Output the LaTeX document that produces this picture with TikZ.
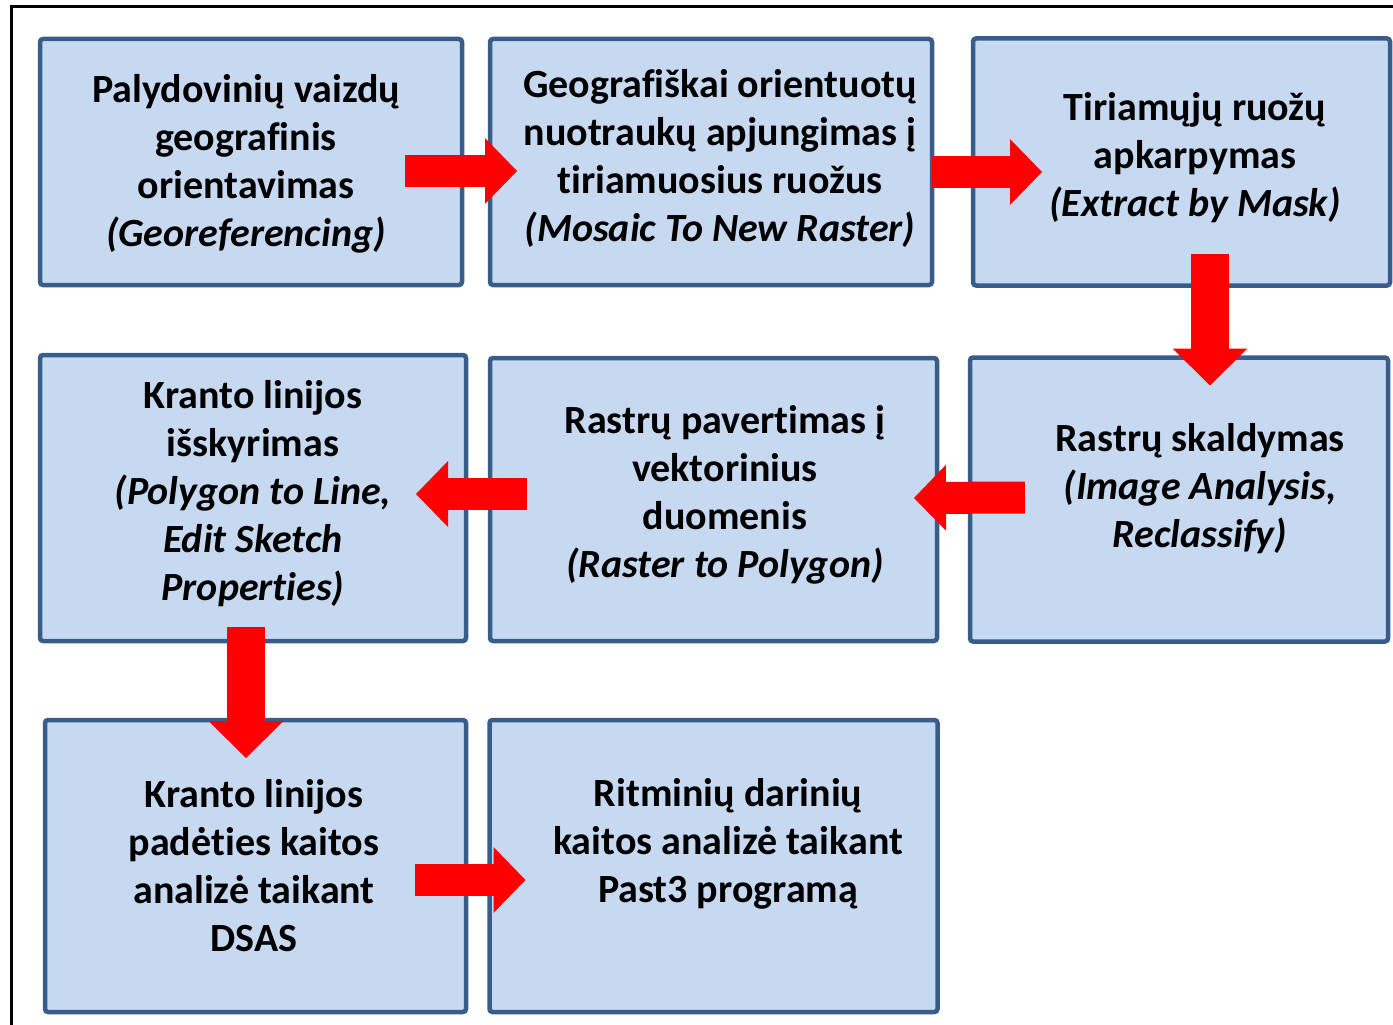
\documentclass[tikz,border=0pt]{standalone}
\usepackage{fontspec}
\setmainfont{Carlito}[RawFeature={-liga;-clig;-calt;-dlig}]
\usepackage{tikz}
\usetikzlibrary{positioning,arrows.meta,calc}
\definecolor{boxfill}{HTML}{C6D9F1}
\definecolor{boxline}{HTML}{385D8A}

\begin{document}
\begin{tikzpicture}[
    x=1pt, y=-1pt,
    thick,
    box/.style={
        rectangle,
        rounded corners=3pt,
        draw=boxline,
        line width=4.5pt,
        fill=boxfill,
        outer sep=0pt
    },
    txt/.style={
        inner sep=0pt,
        align=center,
        font=\fontsize{40}{48}\selectfont\bfseries
    },
    flow/.style={draw=red, line width=32pt, -{Triangle[length=32pt,width=66pt,line width=0pt]}},
    flowbig/.style={draw=red, line width=38pt, -{Triangle[length=37pt,width=75pt,line width=0pt]}}
]
\useasboundingbox (0,0) rectangle (1393,1025);
\draw[line width=3pt] (11,1030) -- (11,7) -- (1400,7);

% boxes
\node[box, minimum width=422pt, minimum height=246pt] (georef) at (251,162) {};
\node[box, minimum width=442pt, minimum height=246pt, right=28pt of georef] (mosaic) {};
\node[box, minimum width=417pt, minimum height=247pt, right=41pt of mosaic] (mask) {};
\node[box, minimum width=426pt, minimum height=286pt, below=70pt of georef, xshift=2pt] (shore) {};
\node[box, minimum width=447pt, minimum height=283pt, below=73pt of mosaic, xshift=2.5pt] (vector) {};
\node[box, minimum width=418pt, minimum height=284pt, below=72pt of mask, xshift=-2.5pt] (classify) {};
\node[box, minimum width=421pt, minimum height=292pt, below=79pt of shore, xshift=2.5pt] (dsas) {};
\node[box, minimum width=448pt, minimum height=292pt, below=79pt of vector] (past) {};

% texts
\node[txt] (georeftxt) at ($(georef)+(-5,2)$)
    {Palydovinių vaizdų\\ geografinis\\ orientavimas\\ \textit{(Georeferencing)}};
\node[txt] (mosaictxt) at ($(mosaic)+(9,-4)$)
    {Geografiškai orientuotų\\ nuotraukų apjungimas į\\ tiriamuosius ruožus\\ \textit{(Mosaic To New Raster)}};
\node[txt] (masktxt) at ($(mask)+(13.5,-4)$)
    {Tiriamųjų ruožų\\ apkarpymas\\ \textit{(Extract by Mask)}};
\node[txt] (shoretxt) at ($(shore)+(0,-4)$)
    {Kranto linijos\\ išskyrimas\\ \textit{(Polygon to Line,}\\ \textit{Edit Sketch}\\ \textit{Properties)}};
\node[txt] (vectortxt) at ($(vector)+(11.5,-4.5)$)
    {Rastrų pavertimas į\\ vektorinius\\ duomenis\\ \textit{(Raster to Polygon)}};
\node[txt] (classifytxt) at ($(classify)+(21,-11)$)
    {Rastrų skaldymas\\ \textit{(Image Analysis,}\\ \textit{Reclassify)}};
\node[txt] (dsastxt) at ($(dsas)+(-1.5,0)$)
    {Kranto linijos\\ padėties kaitos\\ analizė taikant\\ DSAS};
\node[txt] (pasttxt) at ($(past)+(14.5,-22)$)
    {Ritminių darinių\\ kaitos analizė taikant\\ Past3 programą};

% arrows
\draw[flow] ($(georef.east)+(-57,9)$) -- ($(mosaic.west)+(27,9)$);
\draw[flow] ($(mosaic.east)+(0,10)$) -- ($(mask.west)+(69,10)$);
\draw[flowbig] ($(mask.south)+(28.5,-32)$) -- ($(classify.north)+(31,28)$);
\draw[flow] ($(classify.west)+(55,-2)$) -- ($(vector.east)+(-23,-1.5)$);
\draw[flow] ($(vector.west)+(37,-5.5)$) -- ($(shore.east)+(-50,-4)$);
\draw[flowbig] ($(shore.south)+(-7,-14)$) -- ($(dsas.north)+(-9.5,38)$);
\draw[flow] ($(dsas.east)+(-51,14)$) -- ($(past.west)+(36,14)$);

\end{tikzpicture}
\end{document}
